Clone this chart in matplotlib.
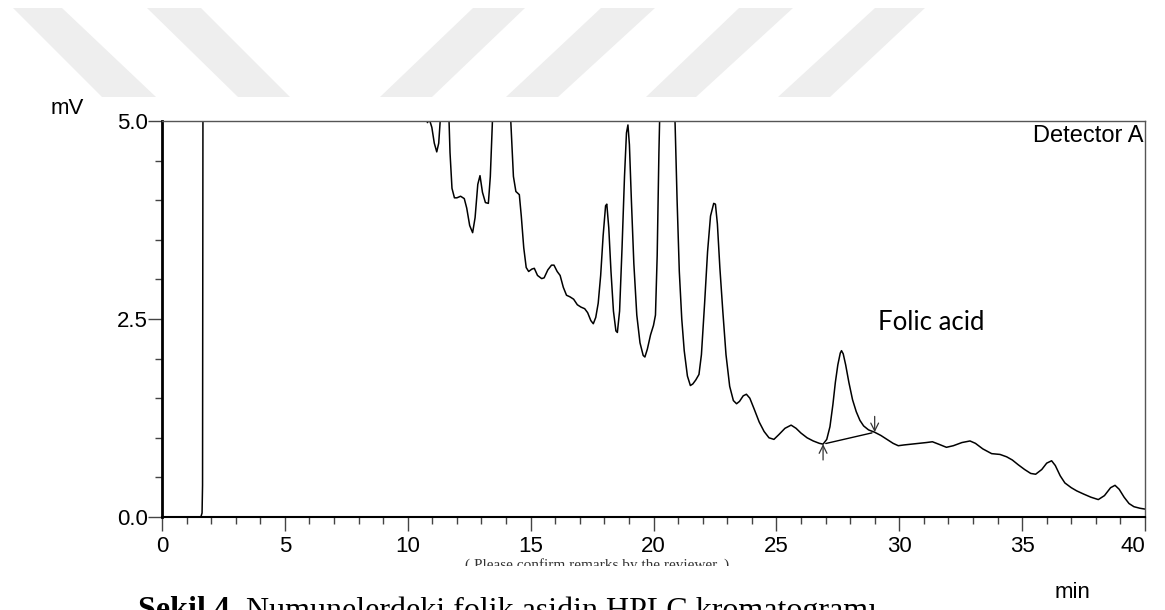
import matplotlib.pyplot as plt
from matplotlib.patches import Polygon, Rectangle

# chromatogram trace: time (min), signal (mV)
t = [0.0, 1.58, 1.63, 1.65, 1.67, 1.75, 10.5, 10.72, 10.80, 10.88, 10.98, 11.08,
     11.18, 11.26, 11.32, 11.40, 11.55, 11.66, 11.72, 11.80, 11.90, 12.00, 12.15,
     12.30, 12.40, 12.52, 12.64, 12.74, 12.85, 12.94, 13.04, 13.16, 13.28, 13.36,
     13.44, 13.50, 13.80, 14.10, 14.20, 14.30, 14.40, 14.54, 14.62, 14.72, 14.82,
     14.92, 15.05, 15.15, 15.28, 15.45, 15.55, 15.70, 15.85, 15.95, 16.08, 16.20,
     16.33, 16.46, 16.60, 16.75, 16.90, 17.05, 17.20, 17.32, 17.45, 17.55, 17.65,
     17.75, 17.85, 17.95, 18.05, 18.10, 18.18, 18.27, 18.37, 18.47, 18.53, 18.62,
     18.72, 18.82, 18.90, 18.96, 19.02, 19.10, 19.20, 19.32, 19.45, 19.58, 19.65,
     19.75, 19.88, 20.00, 20.08, 20.15, 20.22, 20.27, 20.50, 20.82, 20.88, 20.96,
     21.05, 21.15, 21.25, 21.38, 21.50, 21.60, 21.72, 21.85, 21.95, 22.08, 22.20,
     22.32, 22.45, 22.52, 22.60, 22.70, 22.82, 22.95, 23.10, 23.25, 23.38, 23.50,
     23.65, 23.78, 23.92, 24.10, 24.30, 24.50, 24.70, 24.90, 25.10, 25.35, 25.60,
     25.80, 26.00, 26.25, 26.50, 26.75, 26.90, 27.05, 27.18, 27.30, 27.40, 27.50,
     27.60, 27.65, 27.72, 27.82, 27.95, 28.10, 28.25, 28.40, 28.55, 28.75, 29.00,
     29.25, 29.50, 29.75, 29.96, 30.20, 30.50, 30.84, 31.10, 31.35, 31.60, 31.92,
     32.20, 32.55, 32.88, 33.10, 33.40, 33.76, 34.10, 34.37, 34.60, 34.84, 35.10,
     35.35, 35.55, 35.80, 36.00, 36.20, 36.35, 36.55, 36.74, 37.00, 37.22, 37.50,
     37.80, 38.10, 38.35, 38.60, 38.78, 38.95, 39.15, 39.35, 39.55, 39.80, 40.00]
mv = [0.0, 0.0, 0.05, 0.4, 6.5, 9.0, 9.0, 5.3, 4.98, 5.02, 4.92, 4.72,
      4.61, 4.72, 5.0, 5.6, 5.8, 5.2, 4.6, 4.15, 4.03, 4.03, 4.05,
      4.02, 3.90, 3.68, 3.59, 3.78, 4.20, 4.31, 4.10, 3.97, 3.96, 4.30,
      4.95, 5.5, 6.5, 5.6, 4.95, 4.30, 4.11, 4.07, 3.80, 3.40, 3.15,
      3.10, 3.13, 3.14, 3.05, 3.01, 3.02, 3.12, 3.18, 3.18, 3.10, 3.05,
      2.90, 2.80, 2.78, 2.75, 2.68, 2.65, 2.63, 2.58, 2.48, 2.44, 2.52,
      2.70, 3.05, 3.55, 3.93, 3.95, 3.65, 3.10, 2.60, 2.35, 2.33, 2.60,
      3.40, 4.30, 4.85, 4.95, 4.70, 4.00, 3.20, 2.55, 2.20, 2.04, 2.02,
      2.12, 2.30, 2.42, 2.55, 3.3, 4.6, 5.3, 7.0, 5.5, 4.95, 4.0,
      3.1, 2.50, 2.10, 1.78, 1.66, 1.68, 1.73, 1.80, 2.05, 2.70, 3.35,
      3.80, 3.96, 3.95, 3.70, 3.15, 2.60, 2.05, 1.65, 1.47, 1.43, 1.46,
      1.53, 1.55, 1.50, 1.36, 1.20, 1.08, 1.00, 0.98, 1.04, 1.12, 1.16,
      1.12, 1.06, 1.00, 0.96, 0.93, 0.92, 0.98, 1.14, 1.42, 1.70, 1.92,
      2.07, 2.10, 2.06, 1.92, 1.70, 1.48, 1.33, 1.22, 1.15, 1.10, 1.07,
      1.03, 0.98, 0.93, 0.90, 0.91, 0.92, 0.93, 0.94, 0.95, 0.92, 0.88,
      0.90, 0.94, 0.96, 0.93, 0.86, 0.80, 0.79, 0.76, 0.72, 0.66, 0.60,
      0.55, 0.54, 0.60, 0.68, 0.71, 0.65, 0.52, 0.43, 0.37, 0.33, 0.29,
      0.25, 0.22, 0.27, 0.37, 0.40, 0.35, 0.25, 0.17, 0.13, 0.11, 0.10]

# integration baseline of the folic acid peak
peak_start = (26.9, 0.92)
peak_end = (29.0, 1.07)

plt.rcParams['font.family'] = ['Liberation Sans', 'DejaVu Sans']

fig = plt.figure(figsize=(11.65, 6.1), dpi=100)

# background layer in pixel coords (watermark stripes, captions)
bg = fig.add_axes([0, 0, 1, 1])
bg.set_xlim(0, 1165)
bg.set_ylim(610, 0)
bg.axis('off')
stripes = [
    [(13, 8), (62, 8), (156, 97), (102, 97)],
    [(147, 8), (201, 8), (290, 97), (238, 97)],
    [(473, 8), (525, 8), (432, 97), (380, 97)],
    [(601, 8), (655, 8), (558, 97), (506, 97)],
    [(739, 8), (793, 8), (696, 97), (646, 97)],
    [(875, 8), (925, 8), (830, 97), (778, 97)],
]
for s in stripes:
    bg.add_patch(Polygon(s, closed=True, facecolor='#eeeeee', edgecolor='none'))

bg.text(67, 108, "mV", fontsize=16, ha='center', va='center')
bg.text(1072, 592, "min", fontsize=16, ha='center', va='center')
bg.text(597, 558, "( Please confirm remarks by the reviewer. )", fontsize=11,
        family='Liberation Serif', ha='center', va='top', color='#333333', zorder=1)
bg.add_patch(Rectangle((400, 566), 400, 12, facecolor='white', edgecolor='none', zorder=2))
bg.text(138, 596, "Şekil 4.", fontsize=23, family='Liberation Serif',
        fontweight='bold', ha='left', va='top')
bg.text(246, 596, "Numunelerdeki folik asidin HPLC kromatogramı", fontsize=23,
        family='Liberation Serif', ha='left', va='top')

# chromatogram
ax = fig.add_axes([162 / 1165, 93 / 610, 983 / 1165, 396 / 610])
ax.patch.set_alpha(0)
ax.plot(t, mv, color='black', lw=1.1)
ax.annotate("", xy=peak_start, xytext=peak_end,
            arrowprops=dict(arrowstyle='-', color='black', lw=1.0))
ax.annotate("", xy=peak_start, xytext=(peak_start[0], peak_start[1] - 0.2),
            arrowprops=dict(arrowstyle='->', color='#333333', lw=0.9,
                            mutation_scale=14, shrinkA=0, shrinkB=0))
ax.annotate("", xy=peak_end, xytext=(peak_end[0], peak_end[1] + 0.2),
            arrowprops=dict(arrowstyle='->', color='#333333', lw=0.9,
                            mutation_scale=14, shrinkA=0, shrinkB=0))

ax.set_xlim(0, 40)
ax.set_ylim(0, 5)
ax.set_xticks(range(0, 41, 5))
ax.set_xticks(range(0, 41, 1), minor=True)
ax.set_yticks([0, 2.5, 5])
ax.set_yticklabels(["0.0", "2.5", "5.0"])
ax.set_yticks([0.5 * i for i in range(11)], minor=True)
ax.tick_params(axis='both', which='major', labelsize=16, length=10, width=1, color='#444444')
ax.tick_params(axis='y', which='major', pad=0)
ax.tick_params(axis='x', which='major', pad=4)
ax.tick_params(axis='both', which='minor', length=5, width=1, color='#444444')
labels = ax.get_xticklabels()
labels[-1].set_horizontalalignment('right')

ax.spines['left'].set_linewidth(2)
ax.spines['bottom'].set_linewidth(1.5)
for side in ['top', 'right']:
    ax.spines[side].set_linewidth(1)
    ax.spines[side].set_color('#555555')

ax.text(39.95, 4.95, "Detector A", fontsize=17, ha='right', va='top')
ax.text(31.3, 2.46, "Folic acid", fontsize=18.5, family=['Lato', 'DejaVu Sans'],
        ha='center', va='center')

fig.savefig("out.png", dpi=100)
